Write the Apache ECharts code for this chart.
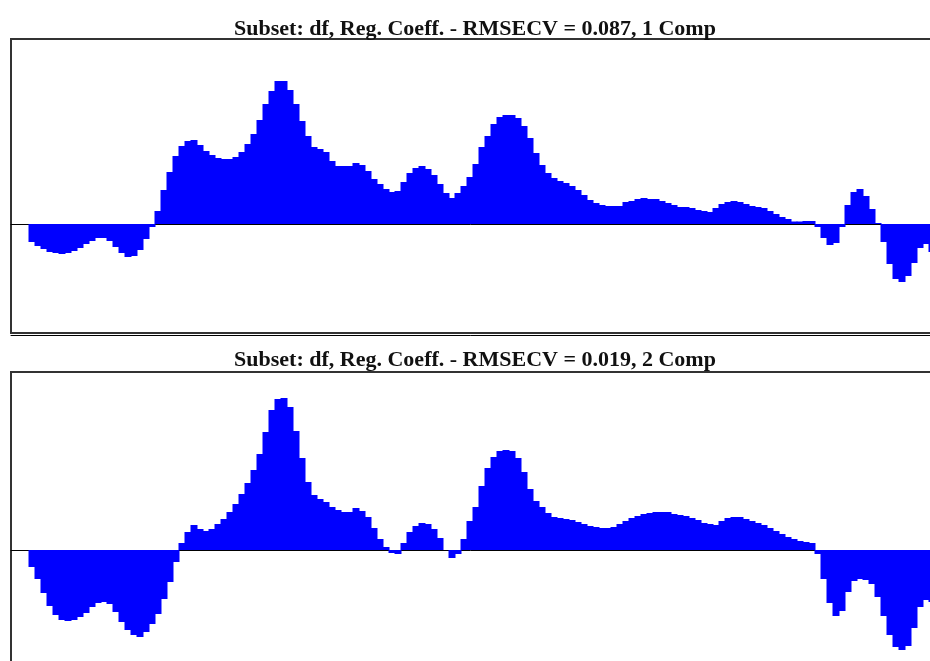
<!DOCTYPE html>
<html>
<head>
<meta charset="utf-8">
<script src="https://cdn.jsdelivr.net/npm/echarts@6/dist/echarts.min.js"></script>
<style>
  html, body { margin: 0; padding: 0; background: #fff; }
  #chart { width: 930px; height: 661px; }
</style>
</head>
<body>
<div id="chart"></div>
<script>
// regression coefficients (x1000), one value per spectral variable
const coef1Comp = [
  -18, -22, -25, -28, -29, -30, -29, -27, -24, -20, -17, -14, -14, -17, -23, -29, -33, -32, -26, -15,
  -3, 13, 34, 52, 68, 78, 83, 84, 79, 73, 69, 66, 65, 65, 67, 72, 80, 90, 104, 120,
  133, 143, 143, 134, 120, 103, 88, 77, 75, 72, 63, 58, 58, 58, 61, 59, 53, 45, 40, 35,
  32, 33, 42, 51, 56, 58, 55, 49, 40, 31, 26, 31, 38, 47, 60, 77, 88, 100, 107, 109,
  109, 106, 98, 86, 71, 59, 51, 46, 43, 41, 38, 34, 29, 24, 21, 19, 18, 18, 18, 22,
  23, 25, 26, 25, 25, 23, 21, 19, 17, 17, 16, 14, 13, 12, 16, 20, 22, 23, 22, 20,
  18, 17, 16, 13, 10, 7, 5, 2.5, 2.5, 3, 3, -3, -14, -21, -19, -3, 19, 32, 35, 28,
  15, 1, -18, -40, -55, -58, -52, -39, -24, -20, -28
];
const coef2Comp = [
  -17, -29, -43, -56, -65, -70, -71, -70, -67, -63, -57, -53, -52, -54, -62, -72, -80, -85, -87, -82,
  -74, -64, -49, -32, -12, 7, 18, 25, 21, 19, 21, 26, 31, 38, 46, 56, 67, 80, 96, 118,
  140, 151, 152, 143, 119, 92, 68, 55, 51, 48, 43, 40, 38, 38, 42, 39, 33, 22, 11, 3,
  -3, -4, 7, 18, 24, 27, 26, 21, 12, 0, -8, -4, 11, 29, 43, 64, 82, 93, 99, 100,
  99, 92, 78, 61, 49, 43, 37, 33, 32, 31, 30, 28, 26, 24, 23, 22, 22, 23, 26, 29,
  32, 34, 36, 37, 38, 38, 38, 36, 35, 34, 32, 30, 27, 26, 25, 29, 32, 33, 33, 31,
  29, 27, 25, 22, 19, 16, 13, 11, 9, 8, 7, -4, -29, -53, -66, -61, -42, -31, -29, -30,
  -34, -47, -66, -85, -97, -100, -96, -78, -57, -50, -52
];
const titles = [
  'Subset: df, Reg. Coeff. - RMSECV = 0.087, 1 Comp',
  'Subset: df, Reg. Coeff. - RMSECV = 0.019, 2 Comp'
];
const yRanges = [[-109, 185], [-141, 178]];

const chart = echarts.init(document.getElementById('chart'), null, { renderer: 'canvas' });

const panels = [coef1Comp, coef2Comp];
const grids = [
  { left: 11, top: 39, width: 930, height: 294 },
  { left: 11, top: 372, width: 930, height: 319 }
];
const titleTops = [18, 349];

const option = {
  animation: false,
  backgroundColor: '#fff',
  title: titles.map((t, k) => ({
    text: t,
    left: 475,
    textAlign: 'center',
    top: titleTops[k],
    padding: 0,
    textStyle: { fontFamily: 'Liberation Serif', fontWeight: 'bold', fontSize: 22, color: '#111' }
  })),
  grid: grids.map(g => ({
    ...g, outerBoundsMode: 'none', show: true,
    borderColor: '#333', borderWidth: 2, backgroundColor: '#fff'
  })),
  xAxis: [],
  yAxis: [],
  series: []
};

panels.forEach((vals, k) => {
  // zero line
  option.xAxis.push({
    type: 'value', gridIndex: k, min: -3.5, max: 151.5,
    axisLine: { show: true, onZero: true, lineStyle: { color: '#000', width: 1 } },
    axisTick: { show: false }, axisLabel: { show: false }, splitLine: { show: false }
  });
  // second rule under the frame
  option.xAxis.push({
    type: 'value', gridIndex: k, min: -3.5, max: 151.5, position: 'bottom', offset: 2,
    axisLine: { show: true, onZero: false, lineStyle: { color: '#000', width: 1 } },
    axisTick: { show: false }, axisLabel: { show: false }, splitLine: { show: false }
  });
  option.yAxis.push({
    type: 'value', gridIndex: k, min: yRanges[k][0], max: yRanges[k][1],
    axisLine: { show: false }, axisTick: { show: false }, axisLabel: { show: false }, splitLine: { show: false }
  });
  option.series.push({
    type: 'bar',
    xAxisIndex: k * 2,
    yAxisIndex: k,
    barWidth: 7,
    itemStyle: { color: '#0000ff' },
    data: vals.map((v, i) => [i, v])
  });
});

chart.setOption(option);
</script>
</body>
</html>
